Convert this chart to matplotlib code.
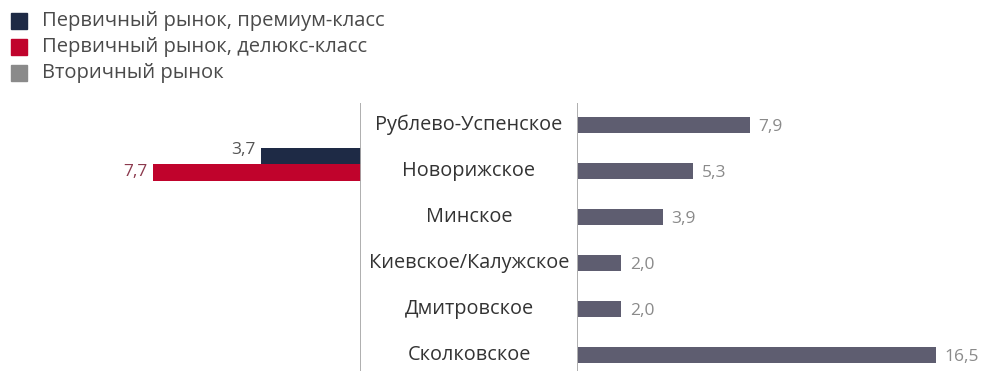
import matplotlib
matplotlib.use("Agg")
import matplotlib.pyplot as plt
import matplotlib.transforms as mtransforms
from matplotlib.patches import Rectangle

plt.rcParams['font.family'] = ['Open Sans', 'DejaVu Sans']

# Data
directions = ["Рублево-Успенское", "Новорижское", "Минское",
              "Киевское/Калужское", "Дмитровское", "Сколковское"]
secondary = [7.9, 5.3, 3.9, 2.0, 2.0, 16.5]
primary_premium = 3.7
primary_deluxe = 7.7
primary_row = "Новорижское"
legend_labels = ["Первичный рынок, премиум-класс",
                 "Первичный рынок, делюкс-класс",
                 "Вторичный рынок"]

C_PREM = "#1e2a45"
C_DELUX = "#c0032c"
C_LEG_GREY = "#8a8a8a"
C_SEC = "#5e5d70"
C_AXIS = "#a8a8a8"

W, H = 985, 371
fig = plt.figure(figsize=(W / 100, H / 100), dpi=100)

def px_rect(x0, y0, x1, y1):
    # pixel box (top-left origin) -> figure fraction rect
    return [x0 / W, 1 - y1 / H, (x1 - x0) / W, (y1 - y0) / H]

top_px, bot_px = 103, 371
first_c, step = 125, 46
ylim = ((bot_px - first_c) / step, -(first_c - top_px) / step)

# Right panel: secondary market
scale_r = 21.7
xr0, xr1 = 577, 985
axr = fig.add_axes(px_rect(xr0, top_px, xr1, bot_px))
axr.set_xlim(0, (xr1 - xr0) / scale_r)
axr.set_ylim(*ylim)
ypos = list(range(len(directions)))
axr.barh(ypos, secondary, height=0.35, color=C_SEC, left=0.05)
for y, v in zip(ypos, secondary):
    axr.text(v + 0.05 + 0.4, y + 0.04, f"{v:.1f}".replace(".", ","),
             va="center", ha="left", fontsize=12.5, color="#8a8a8a")
axr.axis("off")
axr.axvline(0, color=C_AXIS, lw=1.3)

# Left panel: primary market
scale_l = 27.0
xl0, xl1 = 60, 361
axl = fig.add_axes(px_rect(xl0, top_px, xl1, bot_px))
axl.set_xlim((xl1 - xl0) / scale_l, 0)
axl.set_ylim(*ylim)
yc = directions.index(primary_row) - 0.15
hb = 0.36
axl.barh(yc - hb / 2, primary_premium, height=hb, color=C_PREM)
axl.barh(yc + hb / 2, primary_deluxe, height=hb, color=C_DELUX)
axl.text(primary_premium + 0.2, yc - hb / 2 - 0.12, "3,7", ha="right",
         va="center", fontsize=12.5, color="#555555")
axl.text(primary_deluxe + 0.2, yc + hb / 2, "7,7", ha="right",
         va="center", fontsize=12.5, color="#8c3a4e")
axl.axis("off")
axl.axvline(0, color=C_AXIS, lw=1.3)

# Category names between the two panels
trans = mtransforms.blended_transform_factory(fig.transFigure, axr.transData)
xmid = (361 + 577) / 2 / W
for y, name in zip(ypos, directions):
    fig.text(xmid, y, name, transform=trans, ha="center", va="center",
             fontsize=14.3, color="#333333")

# Legend
for i, (lab, col) in enumerate(zip(legend_labels, [C_PREM, C_DELUX, C_LEG_GREY])):
    cy = 21 + i * 26
    fig.patches.append(Rectangle((11 / W, 1 - (cy + 8) / H), 16 / W, 16 / H,
                                 transform=fig.transFigure, color=col))
    fig.text(42 / W, 1 - cy / H, lab, ha="left", va="center",
             fontsize=14.5, color="#4a4a4a")

fig.savefig("out.png", dpi=100)
